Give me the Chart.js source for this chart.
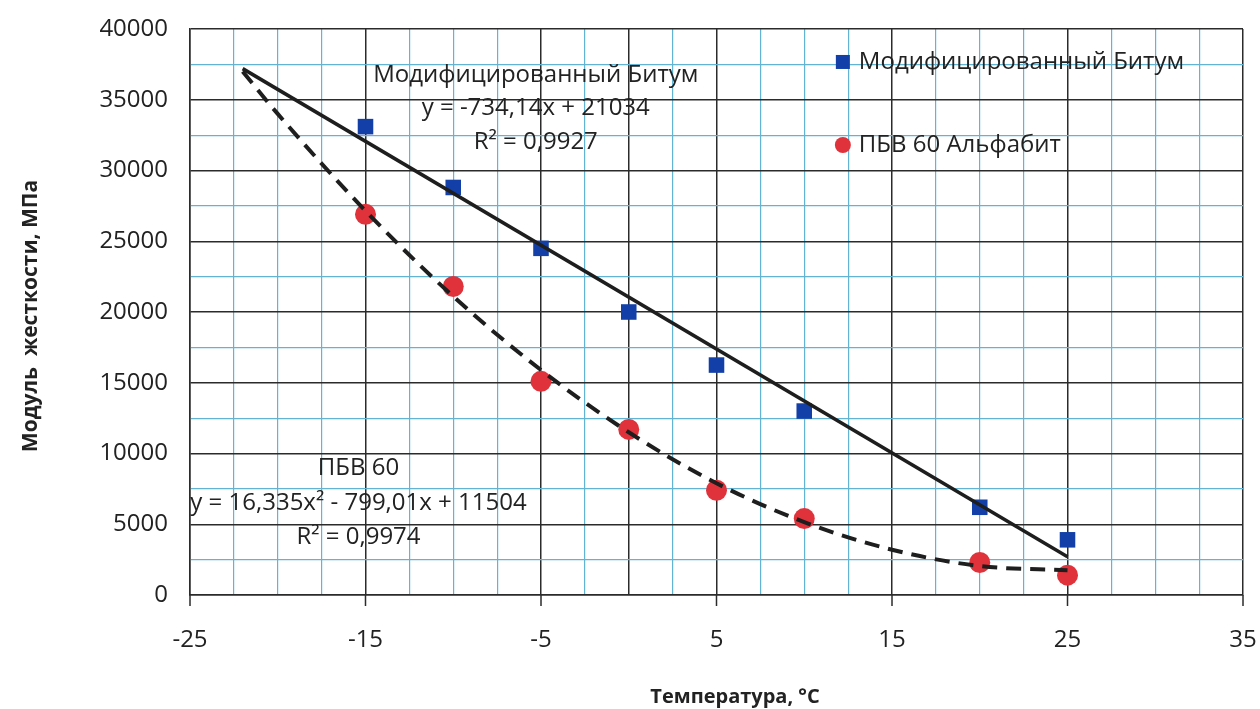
<!DOCTYPE html>
<html>
<head>
<meta charset="utf-8">
<script src="https://cdn.jsdelivr.net/npm/chart.js@4.4.1/dist/chart.umd.min.js"></script>
<style>
  html, body { margin: 0; padding: 0; background: #fff; }
  #wrap { width: 1260px; height: 709px; }
</style>
</head>
<body>
<div id="wrap"><canvas id="stiffChart" width="1260" height="709"></canvas></div>
<script>
// temperatures of the measurements, °C
let temps = [-15, -10, -5, 0, 5, 10, 20, 25];
// stiffness modulus, MPa
let modBitum = [33100, 28800, 24500, 20000, 16250, 13000, 6200, 3900];
let pbv60 = [26900, 21800, 15100, 11700, 7400, 5400, 2300, 1400];

// trend lines as they are drawn in the picture
let linTrendX = [-22, 25];
let linTrendY = [37200, 2700];
let polyTrendX = [-22, -20, -15, -10, -5, 0, 5, 10, 15, 20, 25];
let polyTrendY = [37000, 34000, 27150, 21100, 15900, 11500, 7900, 5150, 3200, 2050, 1750];

let xLabels = [-25, -15, -5, 5, 15, 25, 35];
let yLabels = [0, 5000, 10000, 15000, 20000, 25000, 30000, 35000, 40000];

let seriesNames = ["Модифицированный Битум", "ПБВ 60 Альфабит"];

const FONT = "'Open Sans', 'DejaVu Sans', sans-serif";
const DARK = "#2b2b2b";
const TEAL = "#62b4d2";
const BLUE = "#1240a8";
const RED = "#e0323a";

function toPts(xs, ys) {
  let out = [];
  for (let i = 0; i < xs.length; i++) out.push({ x: xs[i], y: ys[i] });
  return out;
}

// texts drawn inside the plot: trend labels + legend, and the axis titles
const textPlugin = {
  id: "texts",
  afterDraw(chart) {
    const c = chart.ctx;
    const xs = chart.scales.x, ys = chart.scales.y;
    c.save();

    // short tick marks under the x axis at the labelled values
    c.strokeStyle = DARK;
    c.lineWidth = 1.5;
    xLabels.forEach((v) => {
      let px = xs.getPixelForValue(v);
      c.beginPath();
      c.moveTo(px, ys.bottom);
      c.lineTo(px, ys.bottom + 11);
      c.stroke();
    });

    c.fillStyle = "#222";
    c.font = "24px " + FONT;
    c.textAlign = "center";
    c.textBaseline = "middle";
    let cx = xs.getPixelForValue(-5.3);
    c.fillText("Модифицированный Битум", cx, ys.getPixelForValue(36750));
    c.fillText("y = -734,14x + 21034", cx, ys.getPixelForValue(34420));
    c.fillText("R² = 0,9927", cx, ys.getPixelForValue(32010));

    let cx2 = xs.getPixelForValue(-15.4);
    c.fillText("ПБВ 60", cx2, ys.getPixelForValue(8980));
    c.fillText("y = 16,335x² - 799,01x + 11504", cx2, ys.getPixelForValue(6500));
    c.fillText("R² = 0,9974", cx2, ys.getPixelForValue(4100));

    // legend
    let lx = xs.getPixelForValue(12.2);
    let ly1 = ys.getPixelForValue(37670);
    let ly2 = ys.getPixelForValue(31800);
    c.fillStyle = BLUE;
    c.fillRect(lx - 7, ly1 - 7, 14, 14);
    c.fillStyle = RED;
    c.beginPath();
    c.arc(lx, ly2, 8, 0, Math.PI * 2);
    c.fill();
    c.fillStyle = "#222";
    c.textAlign = "left";
    c.fillText(seriesNames[0], lx + 16, ly1);
    c.fillText(seriesNames[1], lx + 16, ly2);

    // axis titles
    c.font = "bold 20px " + FONT;
    c.textAlign = "center";
    c.fillText("Температура, °С", 735, 697);
    c.font = "bold 21px " + FONT;
    c.translate(31, 316);
    c.rotate(-Math.PI / 2);
    c.fillText("Модуль  жесткости, МПа", 0, 0);
    c.restore();
  }
};

const ctx = document.getElementById("stiffChart");
const stiffChart = new Chart(ctx, {
  type: "scatter",
  data: {
    datasets: [
      {
        label: "lin",
        data: toPts(linTrendX, linTrendY),
        showLine: true,
        borderColor: "#1e1e1e",
        borderWidth: 3.5,
        pointRadius: 0,
        order: 0
      },
      {
        label: "poly",
        data: toPts(polyTrendX, polyTrendY),
        showLine: true,
        borderColor: "#1e1e1e",
        borderWidth: 4,
        borderDash: [15, 9],
        cubicInterpolationMode: "monotone",
        pointRadius: 0,
        order: 0
      },
      {
        label: seriesNames[0],
        data: toPts(temps, modBitum),
        pointStyle: "rect",
        pointRadius: 11,
        backgroundColor: BLUE,
        borderColor: BLUE,
        borderWidth: 0,
        order: 2
      },
      {
        label: seriesNames[1],
        data: toPts(temps, pbv60),
        pointStyle: "circle",
        pointRadius: 10.5,
        backgroundColor: RED,
        borderColor: RED,
        borderWidth: 0,
        order: 2
      }
    ]
  },
  options: {
    responsive: false,
    animation: false,
    layout: { padding: { top: 29, right: 17, left: 0, bottom: 0 } },
    plugins: {
      legend: { display: false },
      tooltip: { enabled: false }
    },
    scales: {
      x: {
        type: "linear",
        min: -25,
        max: 35,
        border: { display: true, color: DARK, width: 1.5 },
        afterFit(scale) { scale.height = 114; },
        ticks: {
          stepSize: 2.5,
          autoSkip: false,
          maxRotation: 0,
          padding: 0,
          color: "#222",
          font: { family: FONT, size: 24 },
          callback: (v) => xLabels.includes(v) ? String(v) : ""
        },
        grid: {
          lineWidth: (c) => (xLabels.includes(c.tick.value) || c.tick.value === 0) ? 1.5 : 1.2,
          color: (c) => (xLabels.includes(c.tick.value) || c.tick.value === 0) ? DARK : TEAL,
          tickLength: 31,
          tickColor: "rgba(0,0,0,0)"
        }
      },
      y: {
        type: "linear",
        min: 0,
        max: 40000,
        border: { display: true, color: DARK, width: 1.5 },
        afterFit(scale) { scale.width = 190; },
        ticks: {
          stepSize: 2500,
          autoSkip: false,
          padding: 2,
          color: "#222",
          font: { family: FONT, size: 24 },
          callback: (v) => yLabels.includes(v) ? String(v) : ""
        },
        grid: {
          lineWidth: (c) => yLabels.includes(c.tick.value) ? 1.5 : 1.2,
          color: (c) => yLabels.includes(c.tick.value) ? DARK : TEAL,
          tickLength: 20,
          tickColor: "rgba(0,0,0,0)"
        }
      }
    }
  },
  plugins: [textPlugin]
});
</script>
</body>
</html>
